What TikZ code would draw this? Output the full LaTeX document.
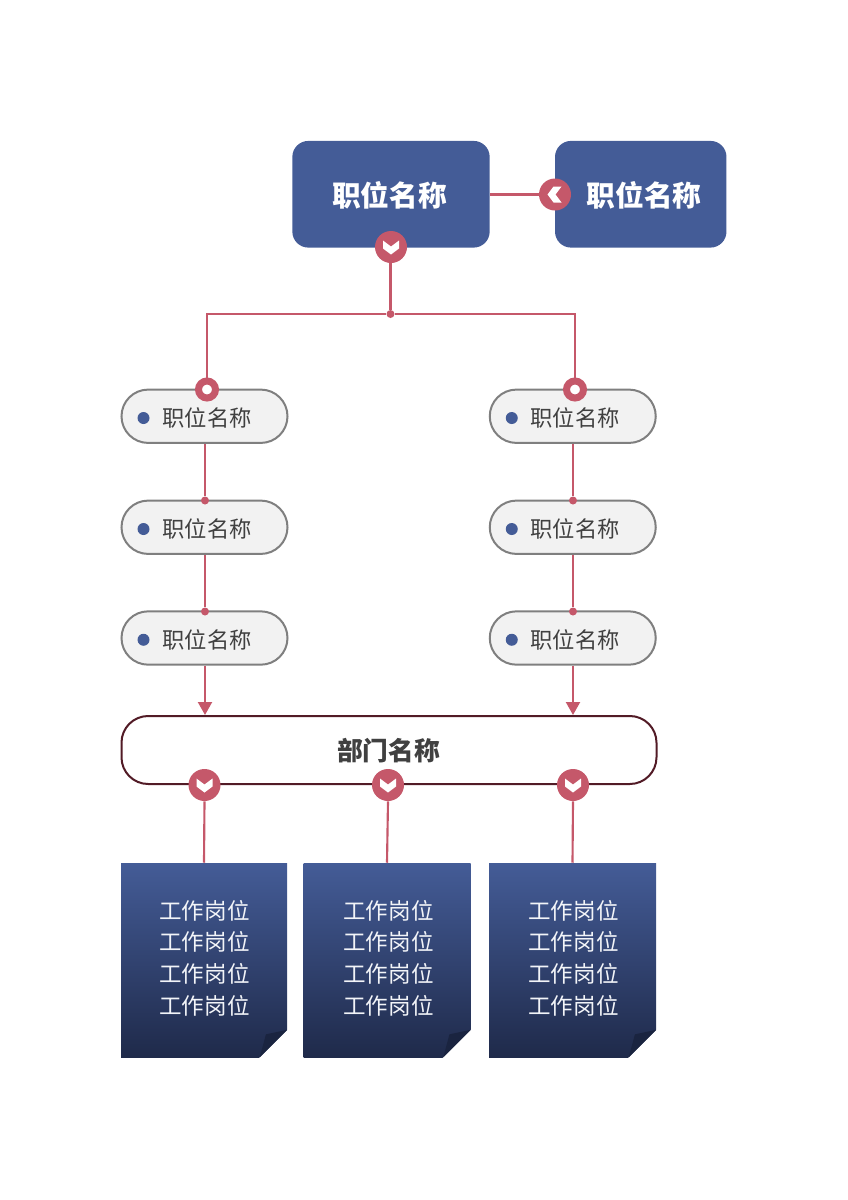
\documentclass[tikz,border=0pt]{standalone}
\usepackage{fontspec}
\setmainfont{Noto Sans CJK SC}
\usetikzlibrary{arrows.meta}
\definecolor{blueb}{HTML}{445C97}
\definecolor{navy}{HTML}{1F2A4A}
\definecolor{foldc}{HTML}{1A2440}
\definecolor{rose}{HTML}{C5586A}
\definecolor{wine}{HTML}{521B26}
\definecolor{ink}{HTML}{404040}
\definecolor{pale}{HTML}{F2F2F2}
\definecolor{rim}{HTML}{7F7F7F}
\tikzset{
  lead/.style={draw=rose,line width=1.6pt},
  leadarrow/.style={lead,-{Triangle[length=9.75pt,width=10.5pt]},shorten >=0pt},
  topbox/.style={draw=none,fill=blueb,rounded corners=12pt,minimum height=80pt,inner sep=0pt},
  toptext/.style={font=\bfseries\fontsize{21.5}{24}\selectfont,text=white,inner sep=0pt},
  pill/.style={draw=rim,fill=pale,line width=1.5pt,rounded corners=20pt,minimum width=124.5pt,minimum height=40pt,inner sep=0pt},
  pilltext/.style={font=\fontsize{16.7}{20}\selectfont,text=ink,inner sep=0pt},
  bullet/.style={circle,fill=blueb,minimum size=9pt,inner sep=0pt},
  dept/.style={draw=wine,fill=white,line width=1.5pt,rounded corners=20pt,minimum width=401.25pt,minimum height=51pt,inner sep=0pt},
  depttext/.style={font=\bfseries\fontsize{19.3}{23}\selectfont,text=ink,inner sep=0pt},
  badge/.style={circle,fill=rose,minimum size=24pt,inner sep=0pt},
  ring/.style={circle,draw=rose,fill=white,line width=5.25pt,minimum size=12.75pt,inner sep=0pt},
  joint/.style={circle,fill=rose,minimum size=6pt,inner sep=0pt},
  card/.style={draw=none,top color=blueb,bottom color=navy,minimum width=125pt,minimum height=145.5pt,inner sep=0pt},
  cardtext/.style={font=\fontsize{16.9}{23.7}\selectfont,text=white!93!blueb,align=center,inner sep=0pt}
}
\newcommand{\chevmark}[2]{\fill[white,shift={(#1)},rotate=#2] (-8,-6.5) -- (0,-0.5) -- (8,-6.5) -- (8,1.5) -- (0,7.5) -- (-8,1.5) -- cycle;}
\newcommand{\foldmark}[1]{%
  \fill[white] ([xshift=1.5pt,yshift=22.1pt]#1.south east) -- ([xshift=1.5pt,yshift=-1.5pt]#1.south east) -- ([xshift=-22.1pt,yshift=-1.5pt]#1.south east) -- cycle;
  \fill[foldc] ([yshift=20.6pt]#1.south east) -- ([xshift=-16pt,yshift=17.2pt]#1.south east) -- ([xshift=-20.6pt]#1.south east) -- cycle;}
\begin{document}
\begin{tikzpicture}[x=0.75pt,y=-0.75pt]
\useasboundingbox (0,0) rectangle (848,1200);
% top boxes
\node[topbox,minimum width=148pt] (bossA) at (391,194.25) {};
\node[topbox,minimum width=128.6pt] (bossB) at (640.75,194.25) {};
\node[toptext] (bossAt) at (389.5,195) {职位名称};
\node[toptext] (bossBt) at (644,195) {职位名称};
\node[badge] (bA) at (391,247) {};
\node[badge] (bB) at (555,194.5) {};
\chevmark{bA}{0}
\chevmark{bB}{-90}
\draw[lead] (bossA.east |- bB) -- (bB.west);
% pills
\foreach \n/\x/\y in {a/204.5/416.25,b/204.5/527.25,c/204.5/638,d/572.75/416.25,e/572.75/527.25,f/572.75/638}{
  \node[pill] (p\n) at (\x,\y) {};
  \node[bullet] (q\n) at ({\x-61},{\y+1.75}) {};
  \node[pilltext] (t\n) at ({\x+2.5},{\y+1.5}) {职位名称};
}
% junction
\node[joint] (hub) at (390.5,314) {};
\node[ring] (rL) at (207,389.5) {};
\node[ring] (rR) at (575,389.5) {};
\draw[lead] (bA.south -| hub) -- (hub);
\draw[lead,line join=miter] (rL.north) -- (rL.north |- hub) -- (hub);
\draw[lead,line join=miter] (rR.north) -- (rR.north |- hub) -- (hub);
\node[joint] (jb) at (205,500.5) {};
\node[joint] (jc) at (205,611.5) {};
\node[joint] (je) at (573,500.5) {};
\node[joint] (jf) at (573,611.5) {};
\draw[lead] (pa.south -| jb) -- (jb);
\draw[lead] (pb.south -| jc) -- (jc);
\draw[lead] (pd.south -| je) -- (je);
\draw[lead] (pe.south -| jf) -- (jf);
% department
\node[dept] (deptbox) at (389,750) {};
\node[depttext] (deptt) at (388.5,751) {部门名称};
\draw[leadarrow] (pc.south -| jc) -- (jc |- deptbox.north);
\draw[leadarrow] (pf.south -| jf) -- (jf |- deptbox.north);
\node[badge] (d1) at (204.5,785) {};
\node[badge] (d2) at (388,785) {};
\node[badge] (d3) at (573,785) {};
\chevmark{d1}{0}
\chevmark{d2}{0}
\chevmark{d3}{0}
% cards
\node[card,minimum width=124.5pt] (c1) at (204,960) {};
\node[card,minimum width=125.25pt] (c2) at (387,960) {};
\node[card,minimum width=125.25pt] (c3) at (572.5,960) {};
\foldmark{c1}
\foldmark{c2}
\foldmark{c3}
\node[cardtext] (ct1) at (204.5,958) {工作岗位\\工作岗位\\工作岗位\\工作岗位};
\node[cardtext] (ct2) at (388.5,958) {工作岗位\\工作岗位\\工作岗位\\工作岗位};
\node[cardtext] (ct3) at (573.5,958) {工作岗位\\工作岗位\\工作岗位\\工作岗位};
\draw[lead] (d1.south) -- (c1.north);
\draw[lead] (d2.south) -- (c2.north);
\draw[lead] (d3.south) -- (c3.north);
\end{tikzpicture}
\end{document}
